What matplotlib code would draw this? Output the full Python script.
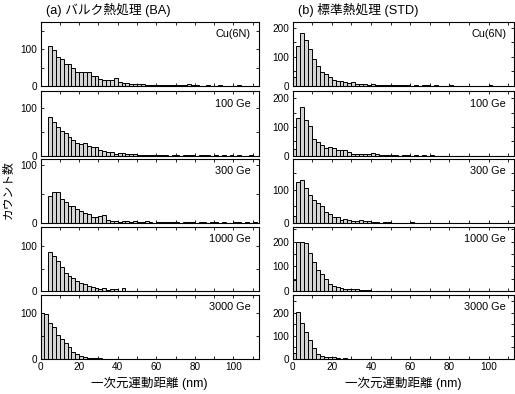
"""Histograms of 1D motion distance, BA vs STD annealing"""

import matplotlib.pyplot as plt
import numpy as np
from matplotlib.ticker import MultipleLocator

plt.rcParams['font.family'] = ['Liberation Sans', 'Noto Sans CJK JP']

bin_width = 2
labels = ['Cu(6N)', '100 Ge', '300 Ge', '1000 Ge', '3000 Ge']
titles = ['(a) バルク熱処理 (BA)', '(b) 標準熱処理 (STD)']

# counts per 2 nm bin, starting at 0 nm
ba_cu = [0, 0, 108, 98, 78, 74, 61, 61, 48, 39, 39, 39, 39, 28, 28, 19, 16, 17, 17, 23,
         12, 9, 7, 6, 6, 5, 5, 4, 3, 3, 2, 3, 2, 2, 3, 2, 4, 2, 5, 3,
         2, 1, 1, 2, 1, 1, 2, 1, 0, 1, 1, 2, 0, 1, 1, 1]
ba_100 = [0, 0, 81, 71, 60, 52, 47, 40, 33, 27, 24, 27, 21, 17, 19, 12, 10, 7, 7, 4,
          5, 5, 3, 4, 3, 2, 2, 1, 1, 1, 2, 1, 1, 0, 1, 1, 0, 1, 2, 1,
          0, 1, 2, 1, 0, 1, 0, 1, 0, 1, 0, 1, 0, 0, 1, 0]
ba_300 = [0, 0, 47, 53, 54, 42, 36, 29, 30, 24, 20, 18, 15, 10, 11, 12, 14, 5, 4, 3,
          2, 4, 4, 2, 3, 1, 1, 4, 1, 0, 1, 1, 2, 1, 2, 1, 0, 1, 1, 2,
          0, 1, 1, 0, 1, 2, 0, 1, 0, 0, 2, 1, 0, 1, 0, 1]
ba_1000 = [0, 0, 86, 78, 68, 54, 41, 33, 28, 22, 17, 16, 11, 9, 7, 4, 7, 2, 4, 4,
           1, 6, 1, 1, 1, 0, 1, 0, 1, 0, 1, 1, 0, 1, 0, 0, 1, 0, 1, 0,
           0, 1, 0, 0, 0, 0, 0, 0, 0, 0, 0, 0, 0, 0, 0, 0]
ba_3000 = [100, 97, 78, 70, 53, 44, 34, 25, 15, 10, 6, 5, 3, 3, 2, 2, 1, 1, 0, 1,
           0, 0, 0, 0, 0, 0, 0, 0, 0, 0, 0, 0, 0, 0, 0, 0, 0, 0, 0, 0,
           0, 0, 0, 0, 0, 0, 0, 0, 0, 0, 0, 0, 0, 0, 0, 0]
std_cu = [32, 137, 184, 160, 126, 93, 70, 48, 42, 30, 22, 16, 18, 13, 9, 15, 7, 8, 6, 5,
          7, 5, 3, 4, 5, 2, 3, 4, 2, 3, 1, 2, 1, 3, 2, 1, 2, 1, 0, 1,
          2, 1, 0, 1, 1, 0, 1, 0, 1, 0, 2, 1, 0, 1, 0, 1]
std_100 = [22, 130, 170, 125, 105, 58, 48, 36, 26, 30, 28, 20, 20, 20, 12, 7, 5, 5, 6, 7,
           9, 6, 3, 2, 1, 2, 1, 0, 1, 1, 0, 1, 0, 1, 0, 1, 0, 0, 0, 0,
           0, 0, 0, 0, 0, 0, 0, 0, 0, 0, 0, 0, 0, 0, 0, 0]
std_300 = [22, 122, 130, 105, 84, 68, 60, 50, 33, 28, 17, 17, 10, 13, 8, 7, 6, 9, 5, 6,
           3, 2, 1, 3, 3, 1, 1, 0, 1, 0, 2, 1, 1, 0, 0, 0, 0, 0, 0, 0,
           0, 0, 0, 0, 0, 0, 0, 0, 0, 0, 0, 0, 0, 0, 0, 0]
std_1000 = [45, 200, 200, 195, 155, 118, 85, 68, 50, 30, 22, 16, 12, 10, 8, 7, 8, 5, 4, 3,
            2, 2, 1, 0, 1, 0, 1, 0, 0, 0, 0, 0, 0, 0, 0, 0, 0, 0, 0, 0,
            0, 0, 0, 0, 0, 0, 0, 0, 0, 0, 0, 0, 0, 0, 0, 0]
std_3000 = [28, 202, 155, 115, 80, 46, 20, 14, 10, 8, 10, 3, 2, 4, 2, 1, 1, 2, 1, 0,
            1, 0, 0, 0, 0, 0, 0, 0, 0, 0, 0, 0, 0, 0, 0, 0, 0, 0, 0, 0,
            0, 0, 0, 0, 0, 0, 0, 0, 0, 0, 0, 0, 0, 0, 0, 0]

ba = [ba_cu, ba_100, ba_300, ba_1000, ba_3000]
std = [std_cu, std_100, std_300, std_1000, std_3000]
ba_ylim = [175, 137, 111, 144, 140]
std_ylim = [222, 226, 194, 262, 278]

W, H = 515, 394
fig = plt.figure(figsize=(W / 100, H / 100), dpi=100)

col_left = [40.5, 292.5]
col_width = [218, 221.5]
row_top = [21.5, 91, 158.5, 226.5, 294.5]
row_h = 64.5

for c, (data, ylims) in enumerate([(ba, ba_ylim), (std, std_ylim)]):
    for r in range(5):
        ax = fig.add_axes([col_left[c] / W, 1 - (row_top[r] + row_h) / H,
                           col_width[c] / W, row_h / H])
        counts = np.array(data[r])
        edges = np.arange(len(counts)) * bin_width
        ax.bar(edges, counts, width=bin_width, align='edge',
               color='#d4d4d4', edgecolor='black', linewidth=0.7)
        ax.set_xlim(0, 113)
        ax.set_ylim(0, ylims[r])
        ax.xaxis.set_major_locator(MultipleLocator(20))
        ax.xaxis.set_minor_locator(MultipleLocator(10))
        ax.yaxis.set_major_locator(MultipleLocator(100))
        ax.yaxis.set_minor_locator(MultipleLocator(50))
        ax.tick_params(which='both', direction='in', top=True, right=True,
                       width=0.6, labelsize=7.2, pad=2.5)
        ax.tick_params(which='major', length=2.5)
        ax.tick_params(which='minor', length=2)
        for s in ax.spines.values():
            s.set_linewidth(0.8)
        ax.text(0.965, 0.8, labels[r], transform=ax.transAxes,
                ha='right', va='center', fontsize=7.8)
        if r < 4:
            ax.set_xticklabels([])
        else:
            ax.set_xlabel('一次元運動距離 (nm)', fontsize=9, labelpad=3)
    fig.text((col_left[c] + 5) / W, 1 - 10 / H, titles[c],
             ha='left', va='center', fontsize=9.2)

fig.text(8 / W, 1 - 190 / H, 'カウント数', rotation=90,
         ha='center', va='center', fontsize=8.5)

fig.savefig('out.png', dpi=100)
